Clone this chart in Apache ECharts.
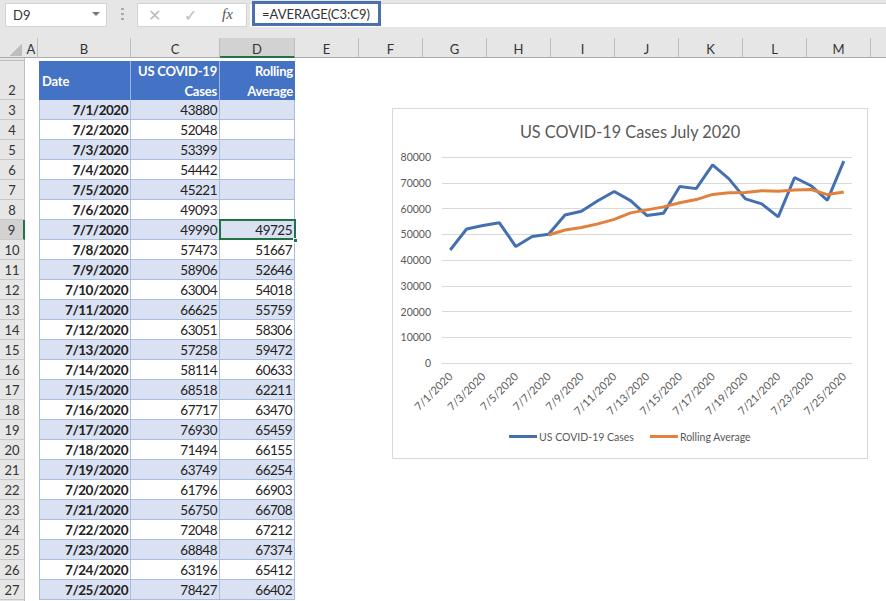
<!DOCTYPE html>
<html lang="en">
<head>
<meta charset="UTF-8">
<title>US COVID-19 Cases July 2020</title>
<script src="https://cdn.jsdelivr.net/npm/echarts@6/dist/echarts.min.js"></script>
<style>
html,body{margin:0;padding:0;width:886px;height:601px;overflow:hidden;background:#fff;font-family:Lato,"Open Sans",sans-serif;color:#222}
div{box-sizing:border-box}
.a{position:absolute;white-space:nowrap}
.hd{background:#e6e6e6;color:#333;text-align:center;font-size:13px;line-height:22px;border-right:1px solid #bdbdbd}
.cell{font-size:13.5px;letter-spacing:-0.5px;line-height:20px;text-align:right;padding-right:2px;border:1px solid #a9bde3;border-width:0 1px 1px 0;height:20px}
.band{background:#d9e1f2}
#chart{position:absolute;left:392px;top:108px;width:476px;height:351px;border:1px solid #d9d9d9;background:#fff}
</style>
</head>
<body>
<div id="sheet"></div>
<div id="chart"></div>
<script>
// values read from the worksheet
const dates = ['7/1/2020','7/2/2020','7/3/2020','7/4/2020','7/5/2020','7/6/2020','7/7/2020','7/8/2020','7/9/2020','7/10/2020','7/11/2020','7/12/2020','7/13/2020','7/14/2020','7/15/2020','7/16/2020','7/17/2020','7/18/2020','7/19/2020','7/20/2020','7/21/2020','7/22/2020','7/23/2020','7/24/2020','7/25/2020'];
const cases = [43880,52048,53399,54442,45221,49093,49990,57473,58906,63004,66625,63051,57258,58114,68518,67717,76930,71494,63749,61796,56750,72048,68848,63196,78427];
const rolling = [null,null,null,null,null,null,49725,51667,52646,54018,55759,58306,59472,60633,62211,63470,65459,66155,66254,66903,66708,67212,67374,65412,66402];
const columns = ['A','B','C','D','E','F','G','H','I','J','K','L','M'];
const colEdges = [25,38,131,220,295,359,423,487,551,615,679,743,807,871];

// spreadsheet around the chart
const sheet = document.getElementById('sheet');
function put(x, y, w, h, css, text, cls) {
    const d = document.createElement('div');
    d.className = 'a ' + (cls || '');
    d.style.cssText = `left:${x}px;top:${y}px;width:${w}px;height:${h}px;` + (css || '');
    if (text != null) d.textContent = text;
    sheet.appendChild(d);
    return d;
}
// ribbon strip
put(0, 0, 886, 38, 'background:#e6e6e6');
put(5, 3, 102, 24, 'background:#fff;border:1px solid #d4d4d4;font-size:13px;line-height:22px;padding-left:7px;color:#333', 'D9');
put(92, 12, 0, 0, 'border-left:4px solid transparent;border-right:4px solid transparent;border-top:4px solid #777');
put(121, 8, 3, 14, 'background:repeating-linear-gradient(#aaa 0 2px,transparent 2px 5px)');
put(137, 3, 110, 24, 'background:#fff;border:1px solid #d4d4d4');
put(148, 3, 16, 24, 'color:#bbb;font-size:16px;line-height:24px', '\u2715');
put(184, 3, 16, 24, 'color:#bbb;font-size:16px;line-height:24px', '\u2713');
put(222, 3, 16, 24, 'color:#555;font-family:"Liberation Serif",serif;font-style:italic;font-size:15px;line-height:22px', 'fx');
put(250, 3, 636, 24, 'background:#fff;border-top:1px solid #d4d4d4');
put(252, 1, 129, 25, 'background:#fff;border:3px solid #4a70b0;font-size:13px;line-height:20px;padding-left:7px;color:#333', '=AVERAGE(C3:C9)');

// column headers
put(0, 38, 886, 20, 'background:#e6e6e6;border-bottom:1px solid #aaa');
put(10, 44, 12, 12, 'background:linear-gradient(135deg,transparent 50%,#bdbdbd 50%)');
columns.forEach((c, i) => {
    const x = colEdges[i], w = colEdges[i + 1] - x;
    const active = c === 'D';
    put(x, 38, w, 20, active ? 'background:#d2d2d2;border-bottom:2px solid #217346' : 'border-bottom:1px solid #aaa', c, 'hd');
});

// row headers
put(0, 58, 25, 543, 'background:#e6e6e6;border-right:1px solid #bdbdbd');
put(0, 58, 25, 3, 'border-bottom:1px solid #bdbdbd');
put(0, 61, 25, 39, 'text-align:center;font-size:13px;line-height:58px;color:#333;border-bottom:1px solid #c8c8c8;border-right:1px solid #bdbdbd', '2');
dates.forEach((d, i) => {
    const y = 100 + i * 20;
    const active = i === 6;
    put(0, y, 25, 20, 'text-align:center;font-size:13px;line-height:20px;color:#333;border-bottom:1px solid #c8c8c8;' +
        (active ? 'background:#d2d2d2;border-right:2px solid #217346' : 'border-right:1px solid #bdbdbd'), String(i + 3));
});

// table
const headCss = 'background:#4472c4;color:#fff;font-weight:700;font-size:13px;letter-spacing:-0.2px;';
put(39, 61, 92, 39, headCss + 'line-height:41px;padding-left:3px;border-right:1px solid #9db4e0', 'Date');
put(131, 61, 89, 39, headCss + 'line-height:20px;text-align:right;padding-right:2px;white-space:pre-line;border-right:1px solid #9db4e0', 'US COVID-19\nCases');
put(220, 61, 75, 39, headCss + 'line-height:20px;text-align:right;padding-right:2px;white-space:pre-line', 'Rolling\nAverage');
dates.forEach((d, i) => {
    const y = 100 + i * 20;
    const band = i % 2 === 0 ? 'band' : '';
    put(39, y, 92, 20, 'font-weight:700;border-left:1px solid #a9bde3', d, 'cell ' + band);
    put(131, y, 89, 20, '', String(cases[i]), 'cell ' + band);
    put(220, y, 75, 20, '', rolling[i] == null ? '' : String(rolling[i]), 'cell ' + band);
});
// selected cell
put(219, 219, 77, 21, 'border:2px solid #217346');
put(293, 238, 5, 5, 'background:#217346;border:1px solid #fff');

// chart
const chart = echarts.init(document.getElementById('chart'), null, {renderer: 'svg'});
chart.setOption({
    animation: false,
    textStyle: {fontFamily: 'Lato'},
    title: {
        text: 'US COVID-19 Cases July 2020',
        left: 'center',
        top: 9,
        textStyle: {fontSize: 16.3, fontWeight: 'normal', color: '#595959', fontFamily: 'Lato'}
    },
    legend: {
        bottom: 11,
        left: 'center',
        icon: 'rect',
        itemWidth: 28,
        itemHeight: 3,
        itemGap: 16,
        textStyle: {fontSize: 10.5, color: '#595959', padding: [0, 0, 0, -3]},
        data: ['US COVID-19 Cases', 'Rolling Average']
    },
    grid: {left: 49, top: 48, width: 410, height: 206},
    xAxis: {
        type: 'category',
        data: dates,
        axisTick: {show: false},
        axisLine: {lineStyle: {color: '#d9d9d9'}},
        axisLabel: {interval: 1, rotate: 45, fontSize: 11, color: '#595959', margin: 11}
    },
    yAxis: {
        type: 'value',
        min: 0,
        max: 80000,
        interval: 10000,
        axisLine: {show: false},
        axisTick: {show: false},
        splitLine: {lineStyle: {color: '#d9d9d9'}},
        axisLabel: {fontSize: 10.5, color: '#595959', margin: 11, formatter: v => String(v)}
    },
    series: [
        {name: 'US COVID-19 Cases', type: 'line', data: cases, showSymbol: false, lineStyle: {width: 3, color: '#4570b0'}, itemStyle: {color: '#4570b0'}},
        {name: 'Rolling Average', type: 'line', data: rolling, showSymbol: false, lineStyle: {width: 3, color: '#e0823d'}, itemStyle: {color: '#e0823d'}}
    ]
});
</script>
</body>
</html>
